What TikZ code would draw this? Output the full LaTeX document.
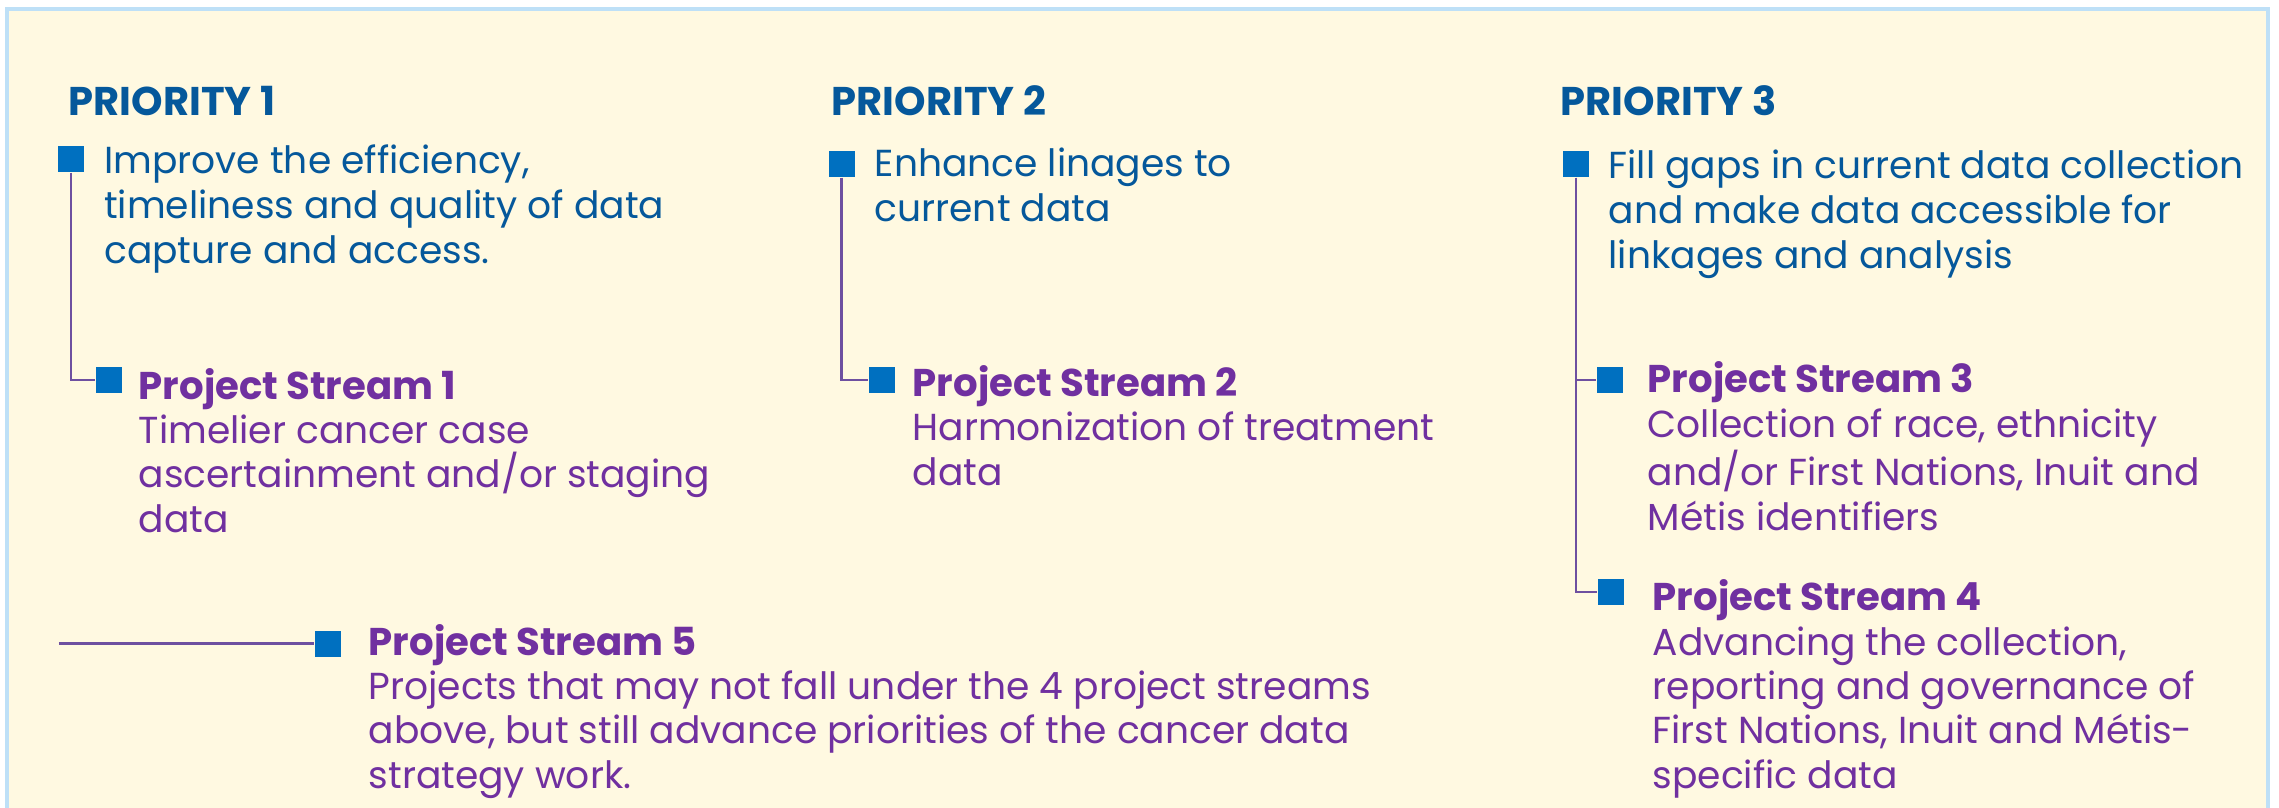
\documentclass[tikz,border=0pt]{standalone}
\usepackage{fontspec}
\setmainfont{Poppins}
\usetikzlibrary{positioning}

\definecolor{prioblue}{RGB}{5,88,155}
\definecolor{sqblue}{RGB}{0,112,192}
\definecolor{streampurple}{RGB}{112,48,160}
\definecolor{linkpurple}{RGB}{110,80,160}
\definecolor{cream}{RGB}{255,249,225}
\definecolor{frameblue}{RGB}{190,224,247}

\begin{document}
\begin{tikzpicture}[
    frame/.style={draw=frameblue,line width=0.9pt,fill=cream},
    bullet/.style={fill=sqblue,minimum size=0.26cm,inner sep=0pt},
    link/.style={linkpurple,line width=0.6pt},
    prio/.style={prioblue,anchor=base west,inner sep=0pt,
        font=\fontsize{11.4}{12.6}\selectfont\bfseries},
    goal/.style={prioblue,anchor=base west,inner sep=0pt,align=left,
        font=\fontsize{10.7}{12.8}\selectfont},
    stream/.style={streampurple,anchor=base west,inner sep=0pt,align=left,
        font=\fontsize{10.7}{12.6}\selectfont}
]

\useasboundingbox (0,0) rectangle (22.79,-8.07);
\clip (0,0) rectangle (22.79,-8.07);

% background panel
\draw[frame] (0.07,-0.09) rectangle (22.68,-8.6);

% (text nodes sit on the baseline of their last line)

% =========================
% PRIORITY 1
% =========================
\node[prio] (prio1) at (0.68,-1.157) {PRIORITY 1};
\node[bullet] (sqP1) at (0.71,-1.59) {};
\node[goal] (goal1) at (1.036,-2.63)
    {Improve the efficiency,\\timeliness and quality of data\\capture and access.};

\node[bullet] (sqPS1) at (1.09,-3.80) {};
\node[stream] (ps1) at (1.38,-5.32)
    {{\fontsize{11}{12.6}\selectfont\bfseries Project Stream 1}\\Timelier cancer case\\ascertainment and/or staging\\data};

\draw[link] (sqP1.south) |- (sqPS1.west);

% =========================
% PRIORITY 2
% =========================
\node[prio] (prio2) at (8.31,-1.157) {PRIORITY 2};
\node[bullet] (sqP2) at (8.415,-1.64) {};
\node[goal] (goal2) at (8.74,-2.21)
    {Enhance linages to\\current data};

\node[bullet] (sqPS2) at (8.82,-3.80) {};
\node[stream] (ps2) at (9.12,-4.85)
    {{\fontsize{11}{12.6}\selectfont\bfseries Project Stream 2}\\Harmonization of treatment\\data};

\draw[link] (sqP2.south) |- (sqPS2.west);

% =========================
% PRIORITY 3
% =========================
\node[prio] (prio3) at (15.60,-1.157) {PRIORITY 3};
\node[bullet] (sqP3) at (15.76,-1.64) {};
\node[goal] (goal3) at (16.08,-2.68)
    {Fill gaps in current data collection\\and make data accessible for\\linkages and analysis};

\node[bullet] (sqPS3) at (16.10,-3.80) {};
\node[stream] (ps3) at (16.47,-5.30)
    {{\fontsize{11}{12.6}\selectfont\bfseries Project Stream 3}\\Collection of race, ethnicity\\and/or First Nations, Inuit and\\Métis identifiers};

\node[bullet] (sqPS4) at (16.11,-5.92) {};
\node[stream] (ps4) at (16.52,-7.88)
    {{\fontsize{11}{12.6}\selectfont\bfseries Project Stream 4}\\Advancing the collection,\\reporting and governance of\\First Nations, Inuit and Métis-\\specific data};

\draw[link] (sqP3.south) |- (sqPS3.west);
\draw[link] (sqP3.south) |- (sqPS4.west);

% =========================
% PROJECT STREAM 5
% =========================
\coordinate (ps5end) at (0.59,-6.435);
\node[bullet] (sqPS5) at (3.28,-6.435) {};
\node[stream] (ps5) at (3.68,-7.88)
    {{\fontsize{11}{12.6}\selectfont\bfseries Project Stream 5}\\Projects that may not fall under the 4 project streams\\above, but still advance priorities of the cancer data\\strategy work.};

\draw[link] (ps5end) -- (sqPS5.west);

\end{tikzpicture}
\end{document}
